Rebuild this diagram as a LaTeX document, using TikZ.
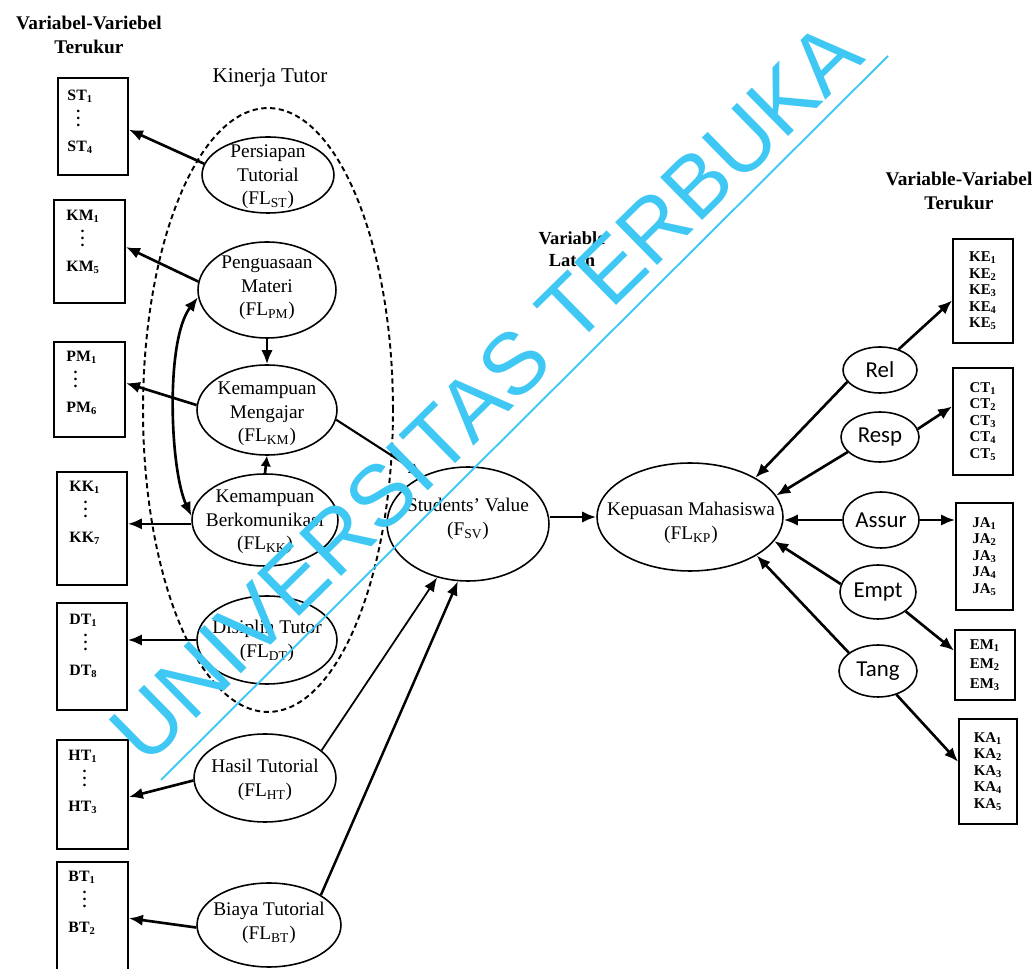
\documentclass[tikz,border=0pt]{standalone}
\usepackage{fontspec}
\setmainfont{Liberation Serif}
\newfontfamily\carl{Carlito}
\newfontfamily\wmfont{Liberation Sans}
\usetikzlibrary{shapes.geometric,arrows.meta}
\definecolor{wm}{RGB}{64,200,245}
\newcommand\vd{\smash{$\vdots$}}
\newcommand\sbs[1]{\textsubscript{#1}}
\begin{document}
\begin{tikzpicture}[x=0.02cm,y=-0.02cm,
  lat/.style={ellipse, draw, line width=0.9pt, inner sep=0pt},
  lbl/.style={align=center, inner sep=0pt, font=\fontsize{11}{13.3}\selectfont},
  sml/.style={font=\carl\fontsize{13}{15}\selectfont, inner sep=0pt},
  mbox/.style 2 args={draw, line width=1pt, inner sep=0pt, minimum width=#1, minimum height=#2},
  ltxt/.style={align=left, anchor=north west, inner sep=0pt, font=\bfseries\fontsize{9}{14.5}\selectfont},
  rtxt/.style={align=left, inner sep=0pt, font=\bfseries\fontsize{8.5}{9.4}\selectfont},
  ttl/.style={align=center, inner sep=0pt, font=\bfseries\fontsize{11}{14}\selectfont},
  arr/.style={line width=1.5pt, -{Latex[length=8pt,width=6.5pt]}},
  dbl/.style={line width=1.5pt, {Latex[length=8pt,width=6.5pt]}-{Latex[length=8pt,width=6.5pt]}},
  wmtxt/.style={text=wm, font=\wmfont\fontsize{49.6}{50}\selectfont, inner sep=0pt},
  wmline/.style={draw=wm, line width=1.1pt}
]
\useasboundingbox (0,0) rectangle (1036,969);
\clip (0,0) rectangle (1036,969);

% titles
\node[ttl] (tl) at (89,35) {Variabel-Variebel\\Terukur};
\node[ttl] (tr) at (959,191) {Variable-Variabel\\Terukur};
\node[font=\fontsize{12}{14}\selectfont, inner sep=0pt] (kt) at (270,78) {Kinerja Tutor};
\node[ttl, font=\bfseries\fontsize{10.5}{12.5}\selectfont] (vl) at (572,249) {Variable\\Laten};

% dashed group
\node[ellipse, draw, dashed, line width=1.1pt, dash pattern=on 3pt off 2pt, minimum width=5cm, minimum height=12.08cm] (kin) at (268,410) {};

% left boxes
\node[mbox={1.40cm}{1.94cm}] (ST) at (93,126.5) {};
\node[mbox={1.42cm}{2.06cm}] (KM) at (89.5,251.5) {};
\node[mbox={1.42cm}{1.90cm}] (PM) at (89.5,389.5) {};
\node[mbox={1.40cm}{2.26cm}] (KK) at (92,528.5) {};
\node[mbox={1.40cm}{2.14cm}] (DT) at (92,656.5) {};
\node[mbox={1.42cm}{2.18cm}] (HT) at (92.5,794.5) {};
\node[mbox={1.42cm}{2.30cm}] (BT) at (92.5,919.5) {};

\node[ltxt] (STt) at ([shift={(10,13)}]ST.north west) {ST\sbs{1}\\\hspace*{5pt}\vd\\ST\sbs{4}};
\node[ltxt] (KMt) at ([shift={(13,11)}]KM.north west) {KM\sbs{1}\\\hspace*{8pt}\vd\\KM\sbs{5}};
\node[ltxt] (PMt) at ([shift={(13,10)}]PM.north west) {PM\sbs{1}\\\hspace*{4pt}\vd\\PM\sbs{6}};
\node[ltxt] (KKt) at ([shift={(13,10)}]KK.north west) {KK\sbs{1}\\\hspace*{8pt}\vd\\KK\sbs{7}};
\node[ltxt] (DTt) at ([shift={(13,12)}]DT.north west) {DT\sbs{1}\\\hspace*{8pt}\vd\\DT\sbs{8}};
\node[ltxt] (HTt) at ([shift={(12,11)}]HT.north west) {HT\sbs{1}\\\hspace*{8pt}\vd\\HT\sbs{3}};
\node[ltxt] (BTt) at ([shift={(12,10)}]BT.north west) {BT\sbs{1}\\\hspace*{8pt}\vd\\BT\sbs{2}};

% right boxes
\node[mbox={1.20cm}{2.08cm}] (KE) at (983,291) {};
\node[mbox={1.20cm}{2.14cm}] (CT) at (983,421.5) {};
\node[mbox={1.14cm}{2.14cm}] (JA) at (984.5,556.5) {};
\node[mbox={1.20cm}{1.40cm}] (EM) at (985,665) {};
\node[mbox={1.16cm}{2.10cm}] (KA) at (988,771.5) {};
\node[rtxt] (KEt) at (KE) {KE\sbs{1}\\KE\sbs{2}\\KE\sbs{3}\\KE\sbs{4}\\KE\sbs{5}};
\node[rtxt] (CTt) at (CT) {CT\sbs{1}\\CT\sbs{2}\\CT\sbs{3}\\CT\sbs{4}\\CT\sbs{5}};
\node[rtxt] (JAt) at (JA) {JA\sbs{1}\\JA\sbs{2}\\JA\sbs{3}\\JA\sbs{4}\\JA\sbs{5}};
\node[rtxt, font=\bfseries\fontsize{8.5}{11}\selectfont] (EMt) at (EM) {EM\sbs{1}\\EM\sbs{2}\\EM\sbs{3}};
\node[rtxt] (KAt) at (KA) {KA\sbs{1}\\KA\sbs{2}\\KA\sbs{3}\\KA\sbs{4}\\KA\sbs{5}};

% latent ellipses
\node[lat, minimum width=2.64cm, minimum height=1.52cm] (PT) at (268,175) {};
\node[lat, minimum width=2.76cm, minimum height=1.92cm] (PMe) at (267,290) {};
\node[lat, minimum width=2.80cm, minimum height=1.80cm] (KMe) at (267,410) {};
\node[lat, minimum width=2.92cm, minimum height=1.84cm] (KKe) at (265,520) {};
\node[lat, minimum width=2.80cm, minimum height=1.76cm] (DTe) at (267,640) {};
\node[lat, minimum width=2.84cm, minimum height=1.76cm] (HTe) at (265,778) {};
\node[lat, minimum width=2.88cm, minimum height=1.68cm] (BTe) at (269,925) {};
\node[lat, minimum width=3.24cm, minimum height=2.28cm] (SV) at (468,524) {};
\node[lat, minimum width=3.72cm, minimum height=2.16cm] (KP) at (690,517) {};

\node[lbl] (PTt) at (268,177) {Persiapan\\Tutorial\\(FL\sbs{ST})};
\node[lbl] (PMet) at (267,288) {Penguasaan\\Materi\\(FL\sbs{PM})};
\node[lbl] (KMet) at (267,414) {Kemampuan\\Mengajar\\(FL\sbs{KM})};
\node[lbl] (KKet) at (265,522) {Kemampuan\\Berkomunikasi\\(FL\sbs{KK})};
\node[lbl] (DTet) at (267,641) {Disiplin Tutor\\(FL\sbs{DT})};
\node[lbl] (HTet) at (265,780) {Hasil Tutorial\\(FL\sbs{HT})};
\node[lbl] (BTet) at (269,923) {Biaya Tutorial\\(FL\sbs{BT})};
\node[lbl] (SVt) at (468,519) {Students' Value\\(F\sbs{SV})};
\node[lbl] (KPt) at (691,523) {Kepuasan Mahasiswa\\(FL\sbs{KP})};

% small right ellipses
\node[lat, minimum width=1.48cm, minimum height=0.92cm] (Rel) at (880,370) {};
\node[lat, minimum width=1.56cm, minimum height=1.00cm] (Resp) at (880,437) {};
\node[lat, minimum width=1.52cm, minimum height=1.12cm] (Assur) at (881,520) {};
\node[lat, minimum width=1.52cm, minimum height=1.08cm] (Empt) at (878,592) {};
\node[lat, minimum width=1.56cm, minimum height=1.04cm] (Tang) at (878,671) {};
\node[sml] (Relt) at (Rel) {Rel};
\node[sml] (Respt) at (Resp) {Resp};
\node[sml] (Assurt) at (Assur) {Assur};
\node[sml] (Emptt) at (Empt) {Empt};
\node[sml] (Tangt) at (Tang) {Tang};

% left arrows
\draw[arr] (PT.170) -- (ST.-5);
\draw[arr] (PMe.173) -- (KM.7);
\draw[arr] (KMe.176) -- (PM.10);
\draw[arr] (KKe.183) -- (KKe.183 -| KK.east);
\draw[arr] (DTe.west) -- (DTe.west -| DT.east);
\draw[arr] (HTe.182) -- (HT.-4);
\draw[arr] (BTe.182) -- (BT.2);

\draw[arr] (PMe.south) -- (KMe.north);
\draw[arr, -{Latex[length=6pt,width=6pt]}] (KKe.north) -- (KMe.south);
\draw[dbl] (PMe.186) .. controls (165,340) and (170,470) .. (KKe.177);

% to Students' Value
\draw[arr, line width=1.2pt] (KMe.-8) -- (SV.133);
\draw[arr, line width=1pt] (HTe.26) -- (SV.240);
\draw[arr, line width=1.4pt] (BTe.30) -- (SV.260);
\draw[arr] (KP.west -| SV.east) -- (KP.west);

% right side
\draw[arr] (Rel.200) -- (KP.31);
\draw[arr] (Resp.205) -- (KP.14);
\draw[arr] (Assur.west) -- (KP.east |- Assur.west);
\draw[arr] (Empt.168) -- (KP.-16);
\draw[arr] (Tang.148) -- (KP.-30);
\draw[arr] (Rel.48) -- (KE.197);
\draw[arr] (Resp.12) -- (CT.154);
\draw[arr] (Assur.east) -- (Assur.east -| JA.west);
\draw[arr] (Empt.-35) -- (EM.155);
\draw[arr] (Tang.-52) -- (KA.162);

% watermark
\node[wmtxt, rotate=44.5, anchor=base west] (wmt) at (146,768) {UNIVERSITAS TERBUKA};
\coordinate (w1) at (161,780);
\coordinate (w2) at (888,56);
\draw[wmline] (w1) -- (w2);
\end{tikzpicture}
\end{document}
